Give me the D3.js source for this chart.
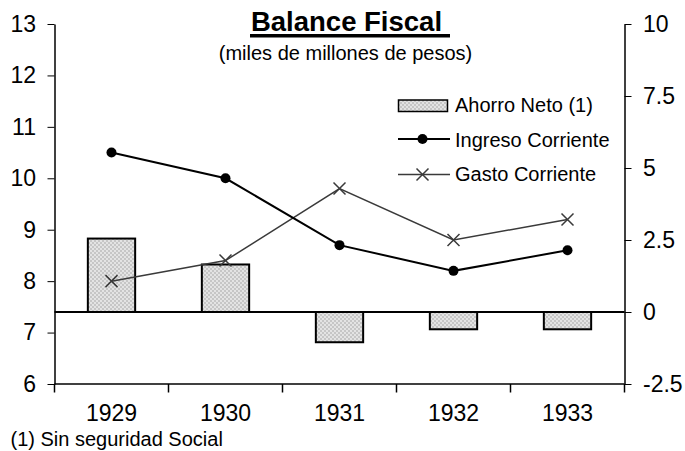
<!DOCTYPE html>
<html><head><meta charset="utf-8">
<script src="https://cdn.jsdelivr.net/npm/d3@7"></script>
<style>
body{margin:0;background:#fff}
svg text{font-family:"Liberation Sans",Arial,sans-serif;fill:#000}
</style>
</head><body>
<svg id="c" width="685" height="451"></svg>
<script>
const years = ["1929","1930","1931","1932","1933"];
const ahorroNeto = [2.55, 1.65, -1.05, -0.6, -0.6];
const ingresoCorriente = [10.5, 10.0, 8.7, 8.2, 8.6];
const gastoCorriente = [8.0, 8.4, 9.8, 8.8, 9.2];
const leftTicks = [6,7,8,9,10,11,12,13];
const rightTicks = [-2.5,0,2.5,5,7.5,10];
const seriesNames = ["Ahorro Neto (1)","Ingreso Corriente","Gasto Corriente"];
const titleText = "Balance Fiscal";
const subtitleText = "(miles de millones de pesos)";
const footnoteText = "(1) Sin seguridad Social";

(function(){
const svg = d3.select("#c");
const pL = 54.5, pR = 624.5, pT = 24, pB = 384;

// pattern for bars
const defs = svg.append("defs");
const pat = defs.append("pattern").attr("id","hatch").attr("patternUnits","userSpaceOnUse")
  .attr("width",4).attr("height",4);
pat.append("rect").attr("width",4).attr("height",4).attr("fill","#c6c6c6");
pat.append("circle").attr("cx",1).attr("cy",1).attr("r",0.9).attr("fill","#f2f2f2");
pat.append("circle").attr("cx",3).attr("cy",3).attr("r",0.9).attr("fill","#f2f2f2");

const x = d3.scaleBand().domain(years).range([pL, pR]).padding(0);
const yL = d3.scaleLinear().domain([6,13]).range([pB, pT]);
const yR = d3.scaleLinear().domain([-2.5,10]).range([pB, pT]);

// bars
const bw = x.bandwidth()*0.415;
svg.append("g").selectAll("rect").data(years).join("rect")
  .attr("x", d => x(d) + x.bandwidth()/2 - bw/2)
  .attr("y", (d,i) => yR(Math.max(0, ahorroNeto[i])))
  .attr("width", bw)
  .attr("height", (d,i) => Math.abs(yR(ahorroNeto[i]) - yR(0)))
  .attr("fill","url(#hatch)").attr("stroke","#000").attr("stroke-width",2);

// zero line
svg.append("line").attr("x1",pL).attr("x2",pR).attr("y1",yR(0)).attr("y2",yR(0))
  .attr("stroke","#000").attr("stroke-width",2);

// left axis
const gL = svg.append("g").attr("transform",`translate(${pL},0)`)
  .call(d3.axisLeft(yL).tickValues(leftTicks).tickSize(7).tickSizeOuter(0).tickPadding(11.5).tickFormat(d3.format("d")));
gL.select(".domain").attr("stroke-width",1.5);
gL.attr("font-family",null).attr("font-size",null);
gL.selectAll("text").style("font-size","23px");

// right axis
const gR = svg.append("g").attr("transform",`translate(${pR},0)`)
  .call(d3.axisRight(yR).tickValues(rightTicks).tickSize(7).tickSizeOuter(0).tickPadding(11.5).tickFormat(d => String(d)));
gR.select(".domain").attr("stroke-width",1.5);
gR.attr("font-family",null).attr("font-size",null);
gR.selectAll("text").style("font-size","23px");

// bottom axis
svg.append("line").attr("x1",pL).attr("x2",pR).attr("y1",pB).attr("y2",pB)
  .attr("stroke","#000").attr("stroke-width",1.5);
const bounds = years.map(d => x(d)).concat([x(years[years.length-1]) + x.bandwidth()]);
svg.append("g").selectAll("line").data(bounds).join("line")
  .attr("x1",d=>d).attr("x2",d=>d).attr("y1",pB).attr("y2",pB+8.5)
  .attr("stroke","#000").attr("stroke-width",1.5);
svg.append("g").selectAll("text").data(years).join("text")
  .attr("x", d => x(d) + x.bandwidth()/2).attr("y", 421)
  .attr("text-anchor","middle").style("font-size","23px").text(d => d);

// lines
const cx = d => x(d) + x.bandwidth()/2;
const lineL = d3.line().x((d,i) => cx(years[i])).y(d => yL(d));
svg.append("path").datum(gastoCorriente).attr("d", lineL)
  .attr("fill","none").attr("stroke","#3a3a3a").attr("stroke-width",1.5);
svg.append("path").datum(ingresoCorriente).attr("d", lineL)
  .attr("fill","none").attr("stroke","#000").attr("stroke-width",2);
svg.append("g").selectAll("circle").data(ingresoCorriente).join("circle")
  .attr("cx",(d,i)=>cx(years[i])).attr("cy",d=>yL(d)).attr("r",5).attr("fill","#000");
const xm = svg.append("g").selectAll("g").data(gastoCorriente).join("g")
  .attr("transform",(d,i)=>`translate(${cx(years[i])},${yL(d)})`);
xm.append("path").attr("d","M-6,-6L6,6M-6,6L6,-6").attr("stroke","#3a3a3a").attr("stroke-width",1.5);

// legend
const lg = svg.append("g");
lg.append("rect").attr("x",398.5).attr("y",100).attr("width",49).attr("height",11.5)
  .attr("fill","url(#hatch)").attr("stroke","#000").attr("stroke-width",1.5);
lg.append("line").attr("x1",398).attr("x2",450).attr("y1",139).attr("y2",139).attr("stroke","#000").attr("stroke-width",2);
lg.append("circle").attr("cx",422.5).attr("cy",139).attr("r",5).attr("fill","#000");
lg.append("line").attr("x1",398).attr("x2",450).attr("y1",174.5).attr("y2",174.5).attr("stroke","#3a3a3a").attr("stroke-width",1.5);
lg.append("path").attr("transform","translate(422.5,174.5)").attr("d","M-6,-6L6,6M-6,6L6,-6").attr("stroke","#3a3a3a").attr("stroke-width",1.5);
const lgY = [112, 146.5, 181];
lg.selectAll("text").data(seriesNames).join("text")
  .attr("x",455).attr("y",(d,i)=>lgY[i]).style("font-size","20px").text(d=>d);

// title
svg.append("text").attr("x",346.5).attr("y",30.5).attr("text-anchor","middle")
  .style("font-size","27.5px").style("font-weight","bold").text(titleText);
svg.append("rect").attr("x",250).attr("y",34).attr("width",200).attr("height",3.5).attr("fill","#000");
svg.append("text").attr("x",345.5).attr("y",60).attr("text-anchor","middle")
  .style("font-size","20px").text(subtitleText);

// footnote
svg.append("text").attr("x",10.5).attr("y",446).style("font-size","20px").text(footnoteText);
})();
</script>
</body></html>
